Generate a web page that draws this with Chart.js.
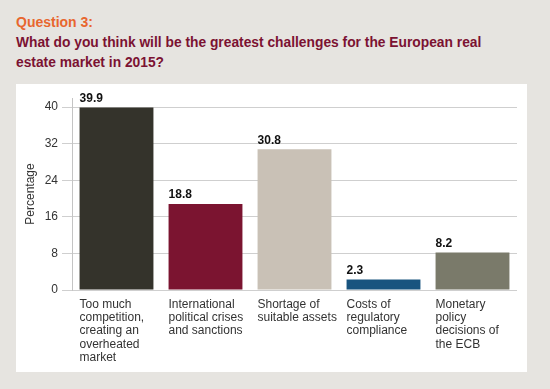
<!DOCTYPE html>
<html>
<head>
<meta charset="utf-8">
<script src="https://cdn.jsdelivr.net/npm/chart.js@4"></script>
<style>
  html, body { margin: 0; padding: 0; }
  body { width: 550px; height: 389px; background: #e6e4e0; position: relative; overflow: hidden;
         font-family: "Liberation Sans", Arial, sans-serif; }
  .q { position: absolute; left: 16px; top: 14px; font-size: 14px; font-weight: bold; color: #e8662e; }
  .t { position: absolute; left: 16px; top: 33px; width: 520px; font-size: 13.8px; line-height: 20px; font-weight: bold; color: #7b1232; white-space: nowrap; }
  .panel { position: absolute; left: 16px; top: 84px; width: 511px; height: 288px; background: #fff; }
</style>
</head>
<body>
<div class="q">Question 3:</div>
<div class="t">What do you think will be the greatest challenges for the European real<br>estate market in 2015?</div>
<div class="panel"><canvas id="chart" width="511" height="288"></canvas></div>
<script>
const categories = [
    ["Too much", "competition,", "creating an", "overheated", "market"],
    ["International", "political crises", "and sanctions"],
    ["Shortage of", "suitable assets"],
    ["Costs of", "regulatory", "compliance"],
    ["Monetary", "policy", "decisions of", "the ECB"]
];
const values = [39.9, 18.8, 30.8, 2.3, 8.2];
const barColors = ["#34332b", "#7b1430", "#c9c1b6", "#18547f", "#7a7a6a"];
const yTicks = [0, 8, 16, 24, 32, 40];

const valueLabels = {
    id: 'valueLabels',
    afterDatasetsDraw(chart) {
        const ctx = chart.ctx;
        const meta = chart.getDatasetMeta(0);
        ctx.save();
        ctx.font = 'bold 12px "Liberation Sans", Arial, sans-serif';
        ctx.fillStyle = '#111';
        ctx.textAlign = 'left';
        ctx.textBaseline = 'bottom';
        meta.data.forEach((bar, i) => {
            ctx.fillText(values[i].toFixed(1), bar.x - bar.width / 2, bar.y - 3);
        });
        ctx.restore();
    }
};

new Chart(document.getElementById('chart'), {
    type: 'bar',
    data: {
        labels: categories,
        datasets: [{
            data: values,
            backgroundColor: barColors,
            barPercentage: 0.83,
            categoryPercentage: 1
        }]
    },
    plugins: [valueLabels],
    options: {
        responsive: false,
        animation: false,
        layout: { padding: { left: 0, right: 10, top: 14, bottom: 0 } },
        plugins: { legend: { display: false }, tooltip: { enabled: false } },
        scales: {
            x: {
                grid: { display: false },
                border: { display: false },
                ticks: {
                    font: { family: '"Liberation Sans", Arial, sans-serif', size: 12, lineHeight: 1.1 },
                    color: '#333',
                    align: 'start',
                    labelOffset: -37,
                    maxRotation: 0,
                    autoSkip: false,
                    padding: 0
                },
                afterFit(scale) {
                    scale.height = 82;
                    scale.paddingLeft = 0;
                    scale.paddingRight = 0;
                }
            },
            y: {
                min: 0,
                max: 42,
                afterBuildTicks(axis) {
                    axis.ticks = yTicks.map(v => ({ value: v }));
                },
                grid: { color: '#cfcfcf', tickLength: 10, lineWidth: 1 },
                border: { color: '#c4c4c4' },
                ticks: {
                    font: { family: '"Liberation Sans", Arial, sans-serif', size: 12 },
                    color: '#333',
                    padding: 4
                },
                title: {
                    display: true,
                    text: 'Percentage',
                    font: { family: '"Liberation Sans", Arial, sans-serif', size: 12 },
                    color: '#333',
                    padding: { top: 7, bottom: 0 }
                },
                afterFit(scale) {
                    scale.width = 56;
                    scale.paddingTop = 0;
                }
            }
        }
    }
});
</script>
</body>
</html>
